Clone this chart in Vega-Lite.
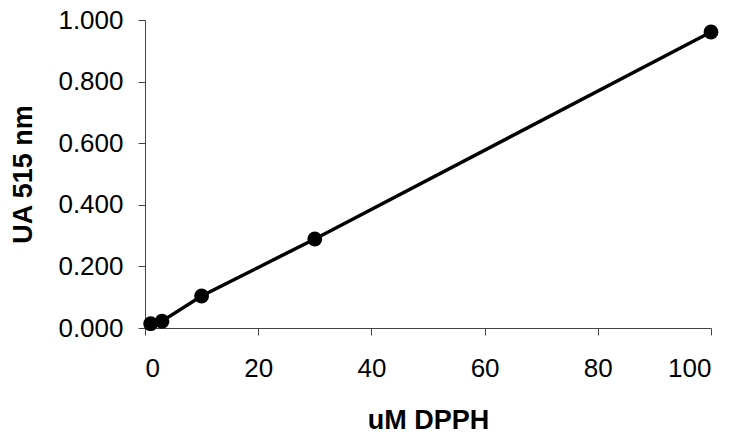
{
  "$schema": "https://vega.github.io/schema/vega-lite/v6.json",
  "width": 566,
  "height": 308,
  "autosize": {"type": "none"},
  "padding": {"left": 145, "top": 20, "right": 26, "bottom": 105},
  "background": "white",
  "config": {
    "view": {"stroke": null},
    "font": "Liberation Sans",
    "axis": {
      "grid": false,
      "domainColor": "#444",
      "tickColor": "#444",
      "domainWidth": 1,
      "tickWidth": 1,
      "tickSize": 7,
      "labelColor": "black",
      "titleColor": "black",
      "labelFont": "Liberation Sans",
      "titleFont": "Liberation Sans",
      "labelFontSize": 26,
      "titleFontSize": 27,
      "titleFontWeight": "bold"
    }
  },
  "data": {
    "values": [
      {"dpph": 1, "abs": 0.014},
      {"dpph": 3, "abs": 0.022},
      {"dpph": 10, "abs": 0.104},
      {"dpph": 30, "abs": 0.289},
      {"dpph": 100, "abs": 0.961}
    ]
  },
  "encoding": {
    "x": {
      "field": "dpph",
      "type": "quantitative",
      "scale": {"domain": [0, 100], "nice": false},
      "axis": {
        "title": "uM DPPH",
        "values": [0, 20, 40, 60, 80, 100],
        "labelPadding": 20,
        "titleX": 283,
        "titleY": 92,
        "titleAlign": "center",
        "titleBaseline": "middle"
      }
    },
    "y": {
      "field": "abs",
      "type": "quantitative",
      "scale": {"domain": [0, 1], "nice": false},
      "axis": {
        "title": "UA 515 nm",
        "values": [0, 0.2, 0.4, 0.6, 0.8, 1.0],
        "format": ".3f",
        "labelPadding": 15,
        "titleAngle": -90,
        "titleX": -122,
        "titleY": 154,
        "titleAlign": "center",
        "titleBaseline": "middle"
      }
    }
  },
  "layer": [
    {"mark": {"type": "line", "color": "black", "strokeWidth": 3.5}},
    {"mark": {"type": "point", "filled": true, "color": "black", "size": 220, "opacity": 1}}
  ]
}
